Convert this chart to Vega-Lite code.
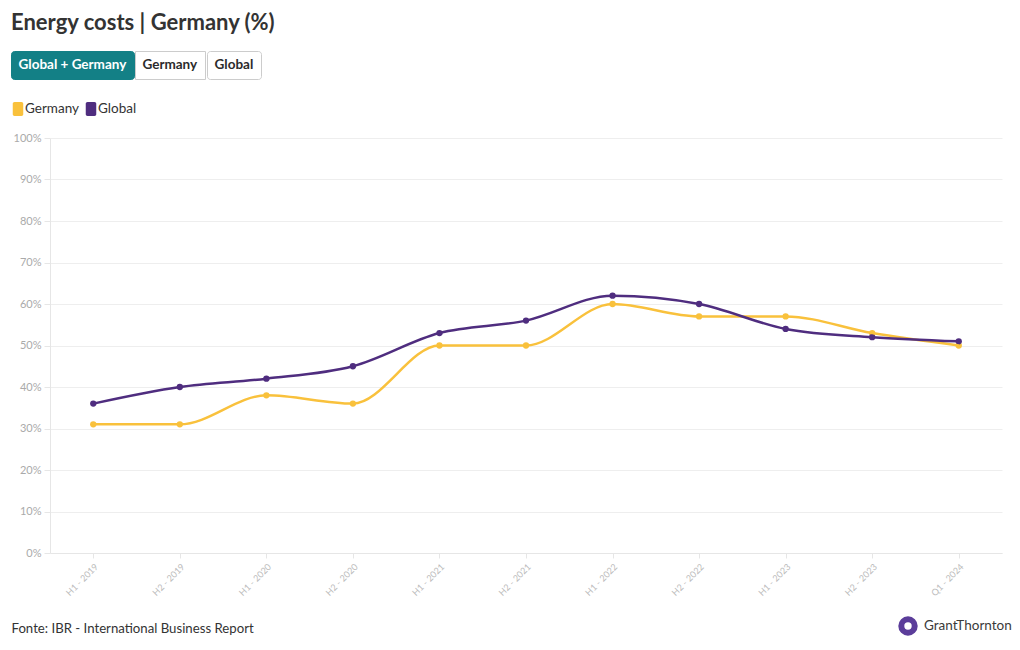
{
  "$schema": "https://vega.github.io/schema/vega-lite/v6.json",
  "width": 952,
  "height": 415,
  "autosize": {"type": "none"},
  "padding": {"left": 50, "top": 138, "right": 18, "bottom": 97},
  "background": "white",
  "config": {"font": "Lato", "view": {"stroke": null}},
  "title": {"text": "Energy costs | Germany (%)", "anchor": "start", "frame": "group", "dx": -39, "offset": 16, "fontSize": 22, "fontWeight": "bold", "color": "#333333"},
  "datasets": {
    "series": [
      {"period": "H1 - 2019", "series": "Germany", "value": 31},
      {"period": "H2 - 2019", "series": "Germany", "value": 31},
      {"period": "H1 - 2020", "series": "Germany", "value": 38},
      {"period": "H2 - 2020", "series": "Germany", "value": 36},
      {"period": "H1 - 2021", "series": "Germany", "value": 50},
      {"period": "H2 - 2021", "series": "Germany", "value": 50},
      {"period": "H1 - 2022", "series": "Germany", "value": 60},
      {"period": "H2 - 2022", "series": "Germany", "value": 57},
      {"period": "H1 - 2023", "series": "Germany", "value": 57},
      {"period": "H2 - 2023", "series": "Germany", "value": 53},
      {"period": "Q1 - 2024", "series": "Germany", "value": 50},
      {"period": "H1 - 2019", "series": "Global", "value": 36},
      {"period": "H2 - 2019", "series": "Global", "value": 40},
      {"period": "H1 - 2020", "series": "Global", "value": 42},
      {"period": "H2 - 2020", "series": "Global", "value": 45},
      {"period": "H1 - 2021", "series": "Global", "value": 53},
      {"period": "H2 - 2021", "series": "Global", "value": 56},
      {"period": "H1 - 2022", "series": "Global", "value": 62},
      {"period": "H2 - 2022", "series": "Global", "value": 60},
      {"period": "H1 - 2023", "series": "Global", "value": 54},
      {"period": "H2 - 2023", "series": "Global", "value": 52},
      {"period": "Q1 - 2024", "series": "Global", "value": 51}
    ]
  },
  "layer": [
    {
      "data": {"name": "series"},
      "encoding": {
        "x": {
          "field": "period", "type": "ordinal", "sort": null,
          "scale": {"type": "point", "padding": 0.5},
          "axis": {
            "labelAngle": -45, "labelColor": "#bbbbbb", "labelFontSize": 9, "labelPadding": 4,
            "tickColor": "#e6e6e6", "tickSize": 5, "domainColor": "#e6e6e6", "grid": false,
            "title": "Fonte: IBR - International Business Report",
            "titleX": -39, "titleY": 79, "titleAlign": "left", "titleBaseline": "alphabetic",
            "titleFontSize": 13.2, "titleFontWeight": "normal", "titleColor": "#333333"
          }
        },
        "y": {
          "field": "value", "type": "quantitative",
          "scale": {"domain": [0, 100], "nice": false},
          "axis": {
            "values": [0, 10, 20, 30, 40, 50, 60, 70, 80, 90, 100],
            "labelExpr": "datum.value + '%'",
            "labelColor": "#aaaaaa", "labelFontSize": 11, "labelPadding": 3,
            "tickColor": "#e6e6e6", "tickSize": 6, "gridColor": "#eeeeee",
            "domainColor": "#e6e6e6", "title": null
          }
        },
        "color": {
          "field": "series", "type": "nominal",
          "scale": {"domain": ["Germany", "Global"], "range": ["#F9C13C", "#4F2D7F"]},
          "legend": {
            "title": null, "orient": "none", "legendX": -39, "legendY": -36, "direction": "horizontal",
            "symbolType": "M-0.5,-1H0.5A0.25,0.25 0 0 1 0.75,-0.75V0.75A0.25,0.25 0 0 1 0.5,1H-0.5A0.25,0.25 0 0 1 -0.75,0.75V-0.75A0.25,0.25 0 0 1 -0.5,-1Z",
            "symbolSize": 196, "symbolStrokeWidth": 0, "symbolOpacity": 1,
            "labelFontSize": 13.5, "labelColor": "#333333", "labelOffset": 0, "columnPadding": 5, "padding": 0
          }
        }
      },
      "layer": [
        {"mark": {"type": "point", "filled": true, "size": 40, "opacity": 1}},
        {"mark": {"type": "line", "interpolate": "monotone", "strokeWidth": 2.5}}
      ]
    },
    {
      "data": {"values": [{"b": "Global + Germany"}]},
      "mark": {"type": "point", "opacity": 0},
      "encoding": {
        "color": {
          "field": "b", "type": "nominal", "scale": {"range": ["#ffffff"]},
          "legend": {
            "title": null, "orient": "none", "legendX": -39, "legendY": -87,
            "fillColor": "#138086", "strokeColor": "#138086", "cornerRadius": 3, "padding": 7,
            "symbolSize": 1, "symbolOpacity": 0, "symbolStrokeWidth": 0, "labelOffset": -13,
            "labelFontSize": 13.5, "labelFontWeight": "bold", "labelColor": "#ffffff"
          }
        }
      }
    },
    {
      "data": {"values": [{"b": "Germany"}]},
      "mark": {"type": "point", "opacity": 0},
      "encoding": {
        "color": {
          "field": "b", "type": "nominal", "scale": {"range": ["#ffffff"]},
          "legend": {
            "title": null, "orient": "none", "legendX": 85, "legendY": -87,
            "fillColor": "#ffffff", "strokeColor": "#cccccc", "cornerRadius": 0, "padding": 7,
            "symbolSize": 1, "symbolOpacity": 0, "symbolStrokeWidth": 0, "labelOffset": -13,
            "labelFontSize": 13.5, "labelFontWeight": "bold", "labelColor": "#2b2b2b"
          }
        }
      }
    },
    {
      "data": {"values": [{"b": "Global"}]},
      "mark": {"type": "point", "opacity": 0},
      "encoding": {
        "color": {
          "field": "b", "type": "nominal", "scale": {"range": ["#ffffff"]},
          "legend": {
            "title": null, "orient": "none", "legendX": 157, "legendY": -87,
            "fillColor": "#ffffff", "strokeColor": "#cccccc", "cornerRadius": 3, "padding": 7,
            "symbolSize": 1, "symbolOpacity": 0, "symbolStrokeWidth": 0, "labelOffset": -13,
            "labelFontSize": 13.5, "labelFontWeight": "bold", "labelColor": "#2b2b2b"
          }
        }
      }
    },
    {
      "data": {"values": [{"b": "GrantThornton"}]},
      "mark": {"type": "point", "opacity": 0},
      "encoding": {
        "color": {
          "field": "b", "type": "nominal", "scale": {"range": ["#5B3D9A"]},
          "legend": {
            "title": null, "orient": "none", "legendX": 848, "legendY": 478, "padding": 0,
            "symbolType": "circle", "symbolSize": 180, "symbolFillColor": "#ffffff",
            "symbolStrokeWidth": 6, "symbolOpacity": 1, "labelOffset": 6,
            "labelFontSize": 13.5, "labelColor": "#3a3a3a"
          }
        }
      }
    }
  ],
  "resolve": {"scale": {"color": "independent"}, "legend": {"color": "independent"}}
}
